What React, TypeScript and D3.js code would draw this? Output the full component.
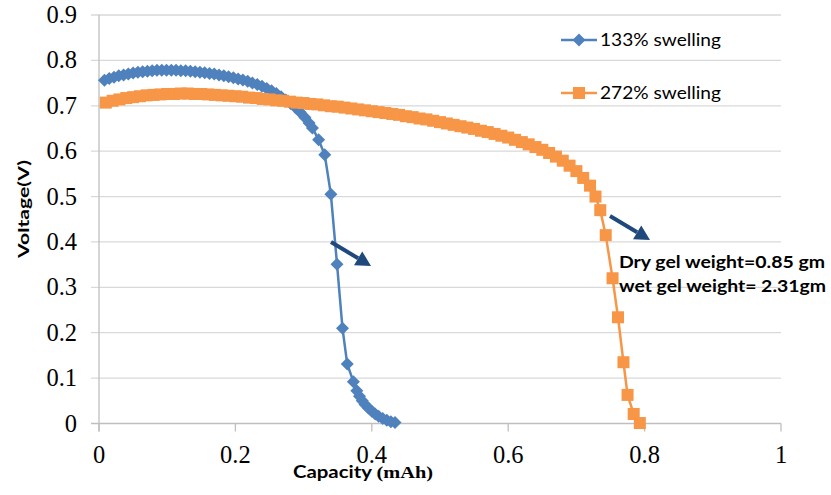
import React from "react";
import * as d3 from "d3";

const xTicks = [0, 0.2, 0.4, 0.6, 0.8, 1];
const yTicks = [0, 0.1, 0.2, 0.3, 0.4, 0.5, 0.6, 0.7, 0.8, 0.9];

const blueX = [0.008,0.015,0.022,0.029,0.036,0.043,0.05,0.057,0.064,0.071,0.078,0.085,0.092,0.099,0.106,0.113,0.12,0.127,0.134,0.141,0.148,0.155,0.162,0.169,0.176,0.183,0.19,0.197,0.204,0.211,0.218,0.225,0.232,0.239,0.246,0.253,0.26,0.267,0.274,0.281,0.288,0.295,0.302,0.308,0.313,0.322,0.331,0.34,0.349,0.357,0.364,0.373,0.378,0.382,0.386,0.39,0.395,0.4,0.405,0.41,0.416,0.422,0.428,0.434];
const blueY = [0.756,0.76,0.763,0.766,0.768,0.77,0.772,0.774,0.775,0.776,0.777,0.778,0.778,0.778,0.778,0.778,0.777,0.777,0.776,0.775,0.774,0.773,0.771,0.77,0.768,0.766,0.764,0.762,0.759,0.757,0.754,0.75,0.747,0.743,0.738,0.733,0.727,0.72,0.713,0.705,0.696,0.686,0.674,0.662,0.651,0.625,0.592,0.505,0.351,0.21,0.131,0.092,0.072,0.06,0.05,0.042,0.034,0.027,0.021,0.016,0.011,0.007,0.004,0.002];

const orangeX = [0.01,0.02,0.03,0.04,0.05,0.06,0.07,0.08,0.09,0.1,0.11,0.12,0.13,0.14,0.15,0.16,0.17,0.18,0.19,0.2,0.21,0.22,0.23,0.24,0.25,0.26,0.27,0.28,0.29,0.3,0.31,0.32,0.33,0.34,0.35,0.36,0.37,0.38,0.39,0.4,0.41,0.42,0.43,0.44,0.45,0.46,0.47,0.48,0.49,0.5,0.51,0.52,0.53,0.54,0.55,0.56,0.57,0.58,0.59,0.6,0.61,0.62,0.63,0.64,0.65,0.66,0.67,0.68,0.69,0.7,0.71,0.72,0.728,0.735,0.743,0.753,0.761,0.769,0.775,0.784,0.793];
const orangeY = [0.707,0.711,0.714,0.717,0.719,0.721,0.723,0.724,0.725,0.726,0.726,0.727,0.727,0.726,0.726,0.725,0.724,0.723,0.722,0.721,0.72,0.718,0.717,0.715,0.714,0.712,0.711,0.709,0.707,0.706,0.704,0.703,0.701,0.699,0.698,0.696,0.694,0.692,0.69,0.688,0.686,0.684,0.682,0.68,0.677,0.675,0.672,0.67,0.667,0.664,0.661,0.658,0.655,0.652,0.649,0.645,0.642,0.638,0.634,0.63,0.625,0.62,0.615,0.609,0.603,0.596,0.588,0.579,0.568,0.556,0.541,0.524,0.5,0.47,0.415,0.32,0.234,0.135,0.063,0.021,0.001];

const seriesNames = ["133% swelling", "272% swelling"];
const annotation = ["Dry gel weight=0.85 gm", "wet gel weight= 2.31gm"];

const BLUE = "#4F81BD";
const ORANGE = "#F79646";
const NAVY = "#1F497D";

export default function App() {
  const W = 831, H = 495;
  const x = d3.scaleLinear().domain([0, 1]).range([99, 781]);
  const y = d3.scaleLinear().domain([0, 0.9]).range([423.5, 15]);
  const line = d3.line<[number, number]>().x(d => x(d[0])).y(d => y(d[1]));
  const blue: [number, number][] = blueX.map((v, i) => [v, blueY[i]]);
  const orange: [number, number][] = orangeX.map((v, i) => [v, orangeY[i]]);
  const diamond = (cx: number, cy: number, r: number) =>
    `M${cx},${cy - r}L${cx + r},${cy}L${cx},${cy + r}L${cx - r},${cy}Z`;
  const serif = "'Liberation Serif', 'Times New Roman', 'DejaVu Serif', serif";
  const sans = "Lato, 'Open Sans', 'Noto Sans', sans-serif";

  const arrow = (x1: number, y1: number, x2: number, y2: number, key: string) => {
    const ang = Math.atan2(y2 - y1, x2 - x1);
    const hl = 15, hw = 8;
    const bx = x2 - hl * Math.cos(ang), by = y2 - hl * Math.sin(ang);
    const px = -Math.sin(ang), py = Math.cos(ang);
    return (
      <g key={key}>
        <line x1={x1} y1={y1} x2={bx} y2={by} stroke={NAVY} strokeWidth={4} />
        <path d={`M${x2},${y2}L${bx + px * hw},${by + py * hw}L${bx - px * hw},${by - py * hw}Z`} fill={NAVY} />
      </g>
    );
  };

  return (
    <svg width={W} height={H} style={{ position: "absolute", left: 0, top: 0, background: "#fff" }}>
      <rect width={W} height={H} fill="#fff" />
      {yTicks.map(t => (
        <g key={"y" + t}>
          <line x1={91} x2={781} y1={y(t)} y2={y(t)} stroke={t === 0 ? "#bfbfbf" : "#d9d9d9"} strokeWidth={1.3} />
          <text x={77} y={y(t) + 8} textAnchor="end" style={{ fontFamily: serif }} fontSize={24.5} fill="#000">{t}</text>
        </g>
      ))}
      <line x1={x(0)} x2={x(0)} y1={y(0.9)} y2={y(0) + 8} stroke="#bfbfbf" strokeWidth={1.3} />
      {xTicks.map(t => (
        <g key={"x" + t}>
          <line x1={x(t)} x2={x(t)} y1={y(0)} y2={y(0) + 8} stroke="#bfbfbf" strokeWidth={1.3} />
          <text x={x(t)} y={463} textAnchor="middle" style={{ fontFamily: serif }} fontSize={24.5} fill="#000">{t}</text>
        </g>
      ))}
      <text x={363} y={478} textAnchor="middle" fontWeight="bold" fontSize={16.5} fill="#000" textLength={140} lengthAdjust="spacingAndGlyphs">
        <tspan style={{ fontFamily: sans }}>Capacity </tspan>
        <tspan style={{ fontFamily: serif }}>(mAh)</tspan>
      </text>
      <text transform="translate(29,209) rotate(-90)" textAnchor="middle" style={{ fontFamily: sans }} fontWeight="bold" fontSize={16} fill="#000" textLength={98} lengthAdjust="spacingAndGlyphs">Voltage(V)</text>

      <path d={line(blue) || ""} fill="none" stroke={BLUE} strokeWidth={2.5} />
      {blue.map((d, i) => (
        <path key={"b" + i} d={diamond(x(d[0]), y(d[1]), 6.5)} fill={BLUE} />
      ))}
      <path d={line(orange) || ""} fill="none" stroke={ORANGE} strokeWidth={2.5} />
      {orange.map((d, i) => (
        <rect key={"o" + i} x={x(d[0]) - 6} y={y(d[1]) - 6} width={12} height={12} fill={ORANGE} />
      ))}

      {arrow(331, 242, 371, 266, "a1")}
      {arrow(610, 216, 650, 240, "a2")}
      <text x={619} y={268} style={{ fontFamily: sans }} fontWeight="bold" fontSize={17} textLength={206} lengthAdjust="spacingAndGlyphs" fill="#000">{annotation[0]}</text>
      <text x={619} y={292} style={{ fontFamily: sans }} fontWeight="bold" fontSize={17} textLength={207} lengthAdjust="spacingAndGlyphs" fill="#000">{annotation[1]}</text>

      <line x1={561} x2={597} y1={40} y2={40} stroke={BLUE} strokeWidth={2.5} />
      <path d={diamond(579, 40, 6.5)} fill={BLUE} />
      <text x={600} y={46} style={{ fontFamily: sans }} fontSize={16.5} textLength={121} lengthAdjust="spacingAndGlyphs" fill="#000">{seriesNames[0]}</text>
      <line x1={561} x2={597} y1={93} y2={93} stroke={ORANGE} strokeWidth={2.5} />
      <rect x={573} y={87} width={12} height={12} fill={ORANGE} />
      <text x={600} y={99} style={{ fontFamily: sans }} fontSize={16.5} textLength={121} lengthAdjust="spacingAndGlyphs" fill="#000">{seriesNames[1]}</text>
    </svg>
  );
}
